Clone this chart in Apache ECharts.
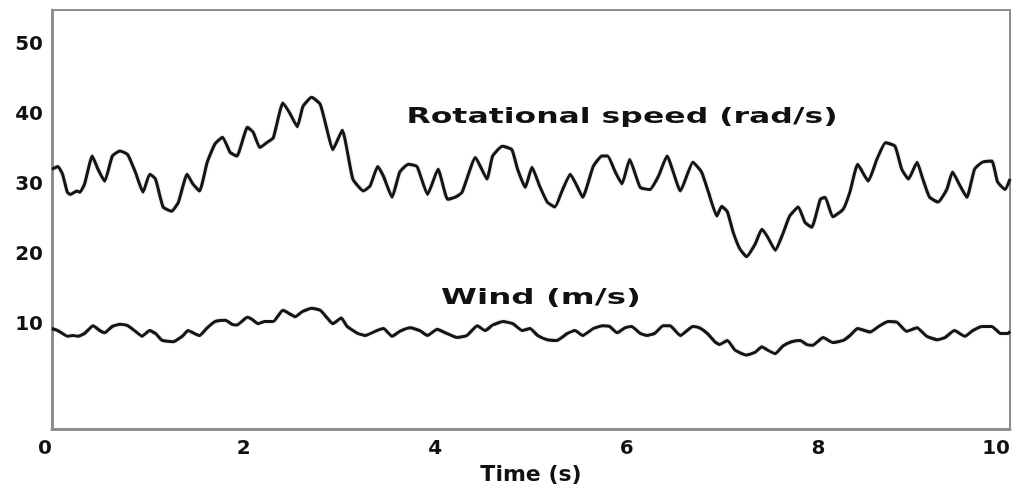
<!DOCTYPE html>
<html>
<head>
<meta charset="utf-8">
<script src="https://cdn.jsdelivr.net/npm/echarts@6/dist/echarts.min.js"></script>
<style>
html,body{margin:0;padding:0;background:#fff;}
#main{width:1020px;height:491px;}
</style>
</head>
<body>
<div id="main"></div>
<script>
// Tick labels
const xTickLabels = [0, 2, 4, 6, 8, 10];
const yTickLabels = [10, 20, 30, 40, 50];

// Rotational speed (rad/s)
const rotTime = [0.00,0.06,0.11,0.16,0.19,0.26,0.29,0.34,0.42,0.48,0.55,0.63,0.71,0.79,0.87,0.95,1.02,1.08,1.16,1.25,1.32,1.41,1.47,1.54,1.62,1.70,1.78,1.86,1.93,2.04,2.10,2.17,2.24,2.31,2.41,2.48,2.56,2.62,2.71,2.80,2.87,2.93,3.03,3.14,3.25,3.32,3.40,3.46,3.55,3.63,3.72,3.81,3.92,4.03,4.13,4.21,4.28,4.42,4.54,4.60,4.70,4.80,4.86,4.94,5.01,5.09,5.17,5.25,5.33,5.41,5.48,5.54,5.65,5.74,5.80,5.88,5.95,6.03,6.14,6.24,6.33,6.42,6.56,6.69,6.78,6.85,6.94,6.99,7.05,7.11,7.18,7.25,7.34,7.41,7.47,7.55,7.63,7.70,7.79,7.86,7.93,8.02,8.07,8.15,8.26,8.33,8.41,8.52,8.61,8.70,8.80,8.87,8.94,9.03,9.09,9.16,9.25,9.34,9.40,9.48,9.55,9.63,9.71,9.81,9.87,9.95,10.00];
const rotSpeed = [32.2,32.6,31.5,28.9,28.6,29.1,28.9,30.1,34.1,32.2,30.5,34.1,34.8,34.3,31.8,28.9,31.5,30.8,26.8,26.2,27.5,31.5,30.1,29.1,33.2,35.8,36.8,34.6,34.1,38.2,37.5,35.3,36.0,36.7,41.7,40.3,38.3,41.2,42.5,41.5,37.9,35.0,37.8,30.8,29.1,29.8,32.6,31.2,28.2,31.8,32.9,32.6,28.6,32.2,27.9,28.2,28.9,33.9,30.8,34.1,35.5,35.0,32.2,29.6,32.5,29.8,27.5,26.8,29.3,31.5,29.8,28.2,32.6,34.1,34.1,31.8,30.1,33.6,29.6,29.3,31.2,34.1,29.1,33.2,31.8,29.0,25.5,26.9,26.1,23.2,20.8,19.7,21.5,23.6,22.5,20.6,23.0,25.5,26.8,24.6,23.9,27.9,28.2,25.4,26.5,29.0,32.9,30.5,33.6,36.0,35.5,32.2,30.8,33.2,30.8,28.2,27.5,29.3,31.8,29.8,28.2,32.2,33.2,33.4,30.4,29.3,30.8];

// Wind (m/s)
const windTime = [0.00,0.06,0.16,0.22,0.27,0.34,0.43,0.50,0.55,0.63,0.71,0.79,0.87,0.94,1.02,1.08,1.15,1.26,1.36,1.42,1.47,1.54,1.62,1.70,1.81,1.88,1.93,2.04,2.09,2.15,2.22,2.31,2.41,2.54,2.61,2.71,2.80,2.88,2.93,3.02,3.08,3.19,3.27,3.39,3.46,3.55,3.63,3.74,3.84,3.92,4.02,4.12,4.23,4.33,4.44,4.52,4.60,4.71,4.81,4.91,4.99,5.07,5.17,5.27,5.38,5.46,5.54,5.65,5.75,5.82,5.90,5.98,6.05,6.14,6.21,6.29,6.38,6.45,6.56,6.69,6.76,6.84,6.92,6.97,7.05,7.13,7.25,7.34,7.41,7.47,7.55,7.63,7.72,7.81,7.88,7.94,8.05,8.15,8.26,8.33,8.41,8.54,8.64,8.73,8.82,8.92,9.03,9.13,9.24,9.32,9.42,9.53,9.61,9.71,9.81,9.90,9.98,10.00];
const windSpeed = [9.4,9.1,8.3,8.4,8.3,8.7,9.8,9.1,8.8,9.7,10.0,9.8,9.0,8.3,9.1,8.7,7.7,7.5,8.3,9.1,8.8,8.4,9.5,10.4,10.6,10.0,9.9,11.0,10.7,10.1,10.4,10.4,12.0,11.1,11.8,12.3,12.0,10.8,10.1,10.9,9.7,8.7,8.4,9.1,9.4,8.3,9.0,9.5,9.1,8.4,9.3,8.7,8.1,8.4,9.8,9.1,9.9,10.4,10.1,9.1,9.4,8.4,7.8,7.7,8.7,9.1,8.4,9.4,9.8,9.7,8.8,9.5,9.7,8.7,8.4,8.7,9.8,9.8,8.4,9.7,9.5,8.7,7.5,7.1,7.7,6.3,5.6,6.0,6.8,6.3,5.8,6.9,7.5,7.7,7.1,7.0,8.1,7.4,7.7,8.4,9.4,8.9,9.8,10.4,10.3,9.0,9.5,8.3,7.8,8.1,9.1,8.3,9.1,9.7,9.7,8.7,8.7,9.0];

const seriesNames = ['Rotational speed (rad/s)', 'Wind (m/s)'];
const xAxisTitle = 'Time (s)';

const FONT = '"DejaVu Sans", Verdana, sans-serif';
const chart = echarts.init(document.getElementById('main'));

const lineStyle = {
  color: '#141414', width: 3,
  shadowColor: 'rgba(0,0,0,0.25)', shadowBlur: 2
};

chart.setOption({
  animation: false,
  backgroundColor: '#ffffff',
  grid: {
    left: 52, right: 10, top: 10, bottom: 59,
    show: true, borderColor: '#8e8e8e', borderWidth: 2
  },
  xAxis: {
    type: 'value', min: 0, max: 10, interval: 2,
    name: xAxisTitle, nameLocation: 'middle', nameGap: 32,
    nameTextStyle: { fontFamily: FONT, fontSize: 22, fontWeight: 'bold', color: '#111' },
    axisLine: { show: true, onZero: false, lineStyle: { color: '#8e8e8e', width: 3 } },
    axisTick: { show: false },
    splitLine: { show: false },
    axisLabel: {
      margin: 10, fontFamily: FONT, fontSize: 20, fontWeight: 'bold', color: '#111',
      alignMinLabel: 'right', alignMaxLabel: 'right',
      formatter: v => xTickLabels.includes(v) ? String(v) : ''
    }
  },
  yAxis: {
    type: 'value', min: -5, max: 55, interval: 5,
    axisLine: { show: true, onZero: false, lineStyle: { color: '#8e8e8e', width: 3 } },
    axisTick: { show: false },
    splitLine: { show: false },
    axisLabel: {
      margin: 9, fontFamily: FONT, fontSize: 20, fontWeight: 'bold', color: '#111',
      formatter: v => yTickLabels.includes(v) ? String(v) : ''
    }
  },
  series: [
    {
      name: seriesNames[0], type: 'line', symbol: 'none', smooth: 0.15,
      lineStyle: lineStyle,
      data: rotTime.map((t, i) => [t, rotSpeed[i]])
    },
    {
      name: seriesNames[1], type: 'line', symbol: 'none', smooth: 0.15,
      lineStyle: lineStyle,
      data: windTime.map((t, i) => [t, windSpeed[i]])
    }
  ],
  graphic: [
    {
      type: 'text', x: 622, y: 118, scaleX: 1.5,
      style: { text: seriesNames[0], fontFamily: FONT, fontSize: 21, fontWeight: 'bold',
               fill: '#111', align: 'center', verticalAlign: 'middle' }
    },
    {
      type: 'text', x: 541, y: 299, scaleX: 1.55,
      style: { text: seriesNames[1], fontFamily: FONT, fontSize: 21, fontWeight: 'bold',
               fill: '#111', align: 'center', verticalAlign: 'middle' }
    }
  ]
});
</script>
</body>
</html>
